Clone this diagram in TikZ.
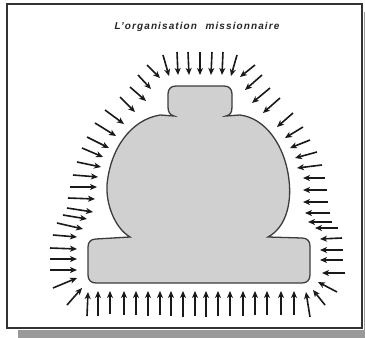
\documentclass[tikz,border=0pt]{standalone}
\usepackage{fontspec}
\setmainfont{Liberation Sans}
\newfontfamily\titlefont[LetterSpace=11,WordSpace={2.2}]{Liberation Sans}
\usetikzlibrary{arrows.meta}
\definecolor{shapefill}{HTML}{D0D0D0}
\definecolor{shapeline}{HTML}{3C3C3C}
\definecolor{shadowgray}{HTML}{9A9A9A}
\tikzset{
  inarrow/.style={line width=1.6pt, black!90, -{Stealth[length=7pt,width=6pt,inset=2pt]}},
  outline/.style={line width=1.3pt, draw=shapeline, fill=shapefill},
  frame/.style={line width=1.7pt, draw=black!80},
}
\begin{document}
\begin{tikzpicture}[x=1pt,y=-1pt]
\useasboundingbox (0,0) rectangle (365,338);
% shadow and frame
\fill[shadowgray] (18,330) rectangle (365,338);
\fill[shadowgray] (364,12) rectangle (365,338);
\draw[frame] (7,4) rectangle (362,328);
% title
\node[font=\titlefont\bfseries\itshape\fontsize{10}{12}\selectfont, text=black!85] (title) at (197,27) {L’organisation missionnaire};
% organisation shape
\draw[outline] (176,86) -- (224,86) .. controls (229,86) and (232,89) .. (232,94) -- (232,107)
  .. controls (232,113) and (230,115) .. (226,116) -- (240,115)
  .. controls (265,118) and (285,145) .. (289,180)
  .. controls (292,205) and (285,228) .. (268,237)
  -- (302,238) .. controls (307,238) and (310,241) .. (310,246)
  -- (310,275) .. controls (310,280) and (307,283) .. (302,283)
  -- (96,283) .. controls (91,283) and (88,280) .. (88,275)
  -- (88,247) .. controls (88,242) and (91,239) .. (96,239)
  -- (130,237) .. controls (115,228) and (106,205) .. (107,185)
  .. controls (110,150) and (130,120) .. (160,115)
  -- (174,116) .. controls (170,115) and (168,112) .. (168,107)
  -- (168,94) .. controls (168,89) and (171,86) .. (176,86) -- cycle;
% top arrows
\foreach \a/\b/\c/\d in {163/55/169/76, 177/52/178/75, 188/52/189/75, 200/52/200/75,
  212/52/211/75, 223/52/222/75, 237/55/231/76}
  \draw[inarrow] (\a,\b) -- (\c,\d);
% left arrows
\foreach \a/\b/\c/\d in {147/65/160/78, 138/75/151/89, 130/87/146/101, 120/97/135/112,
  105/110/124/124, 95/123/116/136, 87/137/109/148, 82/148/103/157, 77/162/101/167,
  73/175/98/177, 70/187/97/187, 68/198/95/199, 67/208/93/212, 63/215/87/219,
  57/223/83/229, 53/235/77/237, 50/248/77/249, 50/259/77/259, 50/270/77/270,
  53/288/77/278, 67/305/82/288}
  \draw[inarrow] (\a,\b) -- (\c,\d);
% bottom arrows
\foreach \a/\b/\c/\d in {87/316/88/292, 98/316/98/291, 110/314/110/291, 124/315/124/291,
  136/315/136/291, 148/316/148/291, 160/315/160/291, 171/316/171/291, 183/317/183/291,
  195/316/195/291, 206/317/206/291, 218/316/218/291, 230/316/230/291, 243/316/243/291,
  255/315/255/291, 267/315/267/291, 281/315/281/291, 294/315/294/291, 310/317/306/292}
  \draw[inarrow] (\a,\b) -- (\c,\d);
% right arrows
\foreach \a/\b/\c/\d in {325/305/313/290, 337/292/318/282, 345/273/322/273, 343/260/320/260,
  343/250/320/250, 342/238/320/239, 338/228/315/228, 332/222/308/222, 330/213/305/213,
  328/202/303/202, 327/190/303/190, 325/178/303/178, 322/165/297/168, 317/152/295/158,
  310/140/290/148, 303/127/285/138, 293/113/277/127, 280/98/263/113, 270/88/252/103,
  262/75/245/90, 255/65/240/77}
  \draw[inarrow] (\a,\b) -- (\c,\d);
\end{tikzpicture}
\end{document}
